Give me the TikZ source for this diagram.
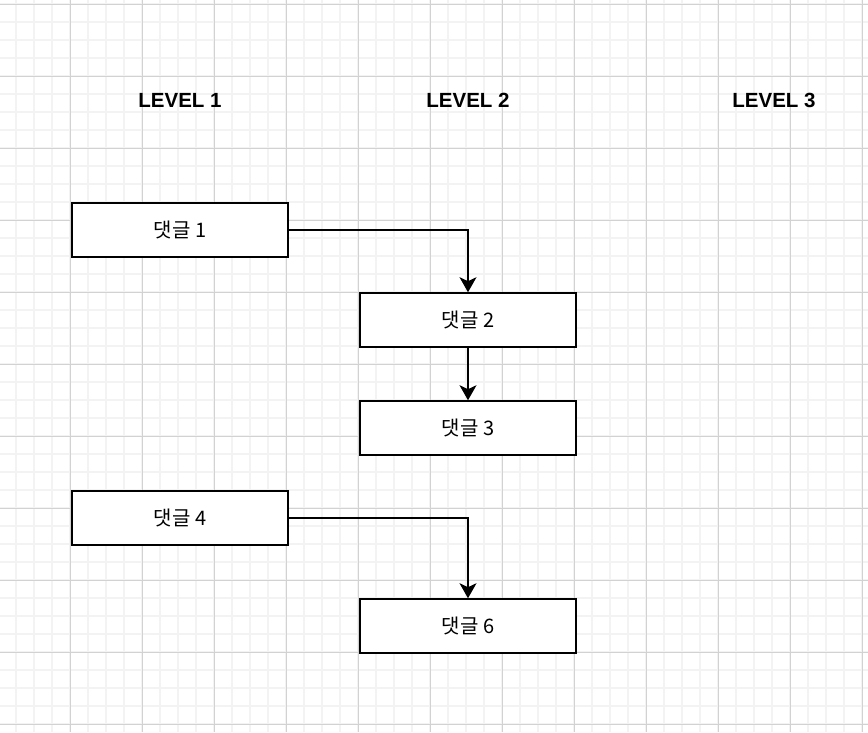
\documentclass[tikz,border=0pt]{standalone}
\usepackage{fontspec}
\setmainfont{Liberation Sans}
\newfontfamily\kr{Noto Sans CJK KR}
\usetikzlibrary{arrows.meta}
\definecolor{minorgrid}{HTML}{F3F3F3}
\definecolor{majorgrid}{HTML}{D2D2D2}
\tikzset{
  cbox/.style={draw=black, line width=1.6pt, fill=white, minimum width=216pt, minimum height=54pt, inner sep=0pt, font=\kr\fontsize{20}{24}\selectfont},
  lvl/.style={font=\bfseries\fontsize{20.5}{24}\selectfont, inner sep=0pt},
  conn/.style={line width=1.6pt, -{Stealth[length=15pt,width=17pt,inset=4pt]}}
}
\begin{document}
\begin{tikzpicture}[x=1pt,y=-1pt]
\useasboundingbox (0,0) rectangle (868,732);
\fill[white] (0,0) rectangle (868,732);
% minor grid
\foreach \i in {0,...,48} {
  \draw[minorgrid, line width=1.5pt] ({-2+18*\i},0) -- ({-2+18*\i},732);
}
\foreach \j in {0,...,41} {
  \draw[minorgrid, line width=1.5pt] (0,{4+18*\j}) -- (868,{4+18*\j});
}
% major grid
\foreach \i in {0,...,12} {
  \draw[majorgrid, line width=0.9pt] ({-2+72*\i},0) -- ({-2+72*\i},732);
}
\foreach \j in {0,...,10} {
  \draw[majorgrid, line width=0.9pt] (0,{4+72*\j}) -- (868,{4+72*\j});
}
% level labels
\node[lvl] (l1) at (180,100) {LEVEL 1};
\node[lvl] (l2) at (468,100) {LEVEL 2};
\node[lvl] (l3) at (774,100) {LEVEL 3};
% boxes
\node[cbox] (c1) at (180,230) {댓글 1};
\node[cbox] (c2) at (468,320) {댓글 2};
\node[cbox] (c3) at (468,428) {댓글 3};
\node[cbox] (c4) at (180,518) {댓글 4};
\node[cbox] (c6) at (468,626) {댓글 6};
% connectors
\draw[conn] (c1.east) -| (c2.north);
\draw[conn] (c2.south) -- (c3.north);
\draw[conn] (c4.east) -| (c6.north);
\end{tikzpicture}
\end{document}
